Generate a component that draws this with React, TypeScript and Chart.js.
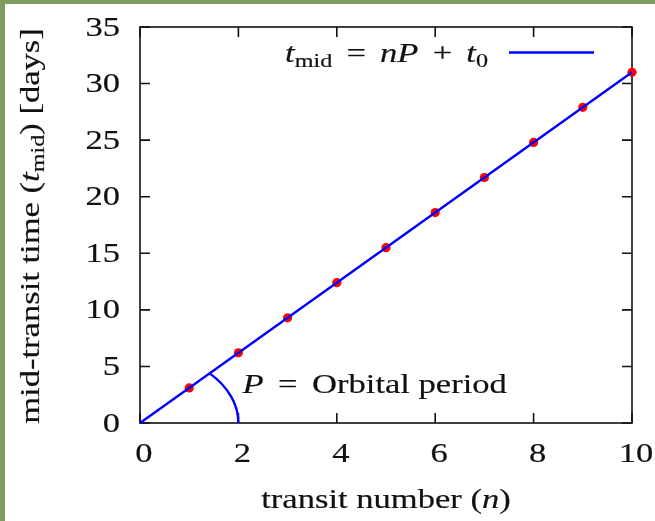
import { useEffect, useRef } from "react";
import { Chart, registerables } from "chart.js";

Chart.register(...registerables);

// Observed mid-transit times against transit number
const transitNumbers = [1, 2, 3, 4, 5, 6, 7, 8, 9, 10];
const midTransitTimes = [3.1, 6.2, 9.3, 12.4, 15.5, 18.6, 21.7, 24.8, 27.9, 31.0];

// Linear fit t_mid = nP + t0, drawn across the full axis range
const fitN = [0, 10];
const fitT = [0, 31];
const orbitalPeriod = 3.1;
const arcN = 2; // angle marker reaches n = 2 on the axis

const xTickValues = [0, 2, 4, 6, 8, 10];
const yTickValues = [0, 5, 10, 15, 20, 25, 30, 35];
const xTickLabels = ["0", "2", "4", "6", "8", "10"];
const yTickLabels = ["0", "5", "10", "15", "20", "25", "30", "35"];

const SERIF = '"Liberation Serif", "Times New Roman", serif';
const FONT_PX = 27;
const SX = 1.28; // horizontal stretch applied to all text
const INK = "#111111";
const FRAME = "#111111";
const BLUE = "#0000ff";
const RED = "#ff0000";
const BORDER_GREEN = "#7f9b5f";

// pad: extra space (in em) on both sides of a run, used for math operators
type Run = { t: string; it?: boolean; sub?: boolean; pad?: number };

function fontFor(r: Run) {
  const size = r.sub ? FONT_PX * 0.7 : FONT_PX;
  return `${r.it ? "italic " : ""}${size}px ${SERIF}`;
}

function drawRuns(
  ctx: CanvasRenderingContext2D,
  runs: Run[],
  x: number,
  y: number,
  align: "left" | "center" | "right"
) {
  ctx.save();
  ctx.translate(x, y);
  ctx.scale(SX, 1);
  ctx.textAlign = "left";
  ctx.textBaseline = "alphabetic";
  ctx.fillStyle = INK;
  ctx.strokeStyle = INK;
  ctx.lineWidth = 0.18;
  ctx.lineJoin = "round";
  const widths = runs.map((r) => {
    ctx.font = fontFor(r);
    return ctx.measureText(r.t).width + 2 * (r.pad ?? 0) * FONT_PX;
  });
  const total = widths.reduce((a, b) => a + b, 0);
  let cx = align === "left" ? 0 : align === "center" ? -total / 2 : -total;
  runs.forEach((r, i) => {
    ctx.font = fontFor(r);
    const dy = r.sub ? FONT_PX * 0.17 : 0;
    const px = cx + (r.pad ?? 0) * FONT_PX;
    ctx.fillText(r.t, px, dy);
    ctx.strokeText(r.t, px, dy);
    cx += widths[i];
  });
  ctx.restore();
}

const legendRuns: Run[] = [
  { t: "t", it: true },
  { t: "mid", sub: true },
  { t: " = ", pad: 0.16 },
  { t: "nP", it: true },
  { t: " + ", pad: 0.16 },
  { t: "t", it: true },
  { t: "0", sub: true },
];

const periodRuns: Run[] = [
  { t: "P", it: true },
  { t: " = ", pad: 0.17 },
  { t: "Orbital period" },
];

const xTitleRuns: Run[] = [{ t: "transit number (" }, { t: "n", it: true }, { t: ")" }];

const yTitleRuns: Run[] = [
  { t: "mid-transit time (" },
  { t: "t", it: true },
  { t: "mid", sub: true },
  { t: ") [days]" },
];

const gnuplotLook = {
  id: "gnuplotLook",
  beforeDraw(chart: any) {
    const { ctx, width, height } = chart;
    ctx.save();
    ctx.fillStyle = "#ffffff";
    ctx.fillRect(0, 0, width, height);
    ctx.fillStyle = BORDER_GREEN;
    ctx.fillRect(0, 0, 5, height);
    ctx.fillRect(0, 0, width, 4);
    ctx.restore();
  },
  beforeDatasetsDraw(chart: any) {
    const { ctx, chartArea: a, scales } = chart;
    const xs = scales.x;
    const ys = scales.y;
    const tick = 10;
    ctx.save();
    ctx.strokeStyle = FRAME;
    ctx.lineWidth = 1.6;
    ctx.strokeRect(a.left, a.top, a.right - a.left, a.bottom - a.top);
    ctx.beginPath();
    xTickValues.forEach((v) => {
      const px = xs.getPixelForValue(v);
      ctx.moveTo(px, a.bottom);
      ctx.lineTo(px, a.bottom - tick);
      ctx.moveTo(px, a.top);
      ctx.lineTo(px, a.top + tick);
    });
    yTickValues.forEach((v) => {
      const py = ys.getPixelForValue(v);
      ctx.moveTo(a.left, py);
      ctx.lineTo(a.left + tick, py);
      ctx.moveTo(a.right, py);
      ctx.lineTo(a.right - tick, py);
    });
    ctx.stroke();
    ctx.restore();

    xTickValues.forEach((v, i) => {
      drawRuns(ctx, [{ t: xTickLabels[i] }], xs.getPixelForValue(v) + 4, a.bottom + 39, "center");
    });
    yTickValues.forEach((v, i) => {
      drawRuns(ctx, [{ t: yTickLabels[i] }], a.left - 20, ys.getPixelForValue(v) + 8.5, "right");
    });

    drawRuns(ctx, xTitleRuns, (a.left + a.right) / 2, a.bottom + 85, "center");

    ctx.save();
    ctx.translate(39, (a.top + a.bottom) / 2 + 1);
    ctx.rotate(-Math.PI / 2);
    drawRuns(ctx, yTitleRuns, 0, 0, "center");
    ctx.restore();
  },
  afterDatasetsDraw(chart: any) {
    const { ctx, chartArea: a, scales } = chart;
    const xs = scales.x;
    const ys = scales.y;

    // angle marker between the axis and the fitted line
    const cx = xs.getPixelForValue(0);
    const cy = ys.getPixelForValue(0);
    const rx = xs.getPixelForValue(arcN) - cx;
    const ry = cy - ys.getPixelForValue(arcN * orbitalPeriod);
    ctx.save();
    ctx.strokeStyle = BLUE;
    ctx.lineWidth = 2.4;
    ctx.beginPath();
    ctx.ellipse(cx, cy, rx, ry, 0, -Math.PI / 4, 0);
    ctx.stroke();
    ctx.restore();
    drawRuns(ctx, periodRuns, xs.getPixelForValue(arcN) + 4, cy - 30, "left");

    // key
    const lx1 = a.right - 38;
    const lx0 = lx1 - 85;
    const ly = a.top + 25.5;
    ctx.save();
    ctx.strokeStyle = BLUE;
    ctx.lineWidth = 2.4;
    ctx.beginPath();
    ctx.moveTo(lx0, ly);
    ctx.lineTo(lx1, ly);
    ctx.stroke();
    ctx.restore();
    drawRuns(ctx, legendRuns, lx0 - 21, a.top + 35, "right");
  },
};

export default function App() {
  const canvasRef = useRef<HTMLCanvasElement | null>(null);

  useEffect(() => {
    const canvas = canvasRef.current;
    if (!canvas) return;
    const chart = new Chart(canvas, {
      type: "scatter",
      data: {
        datasets: [
          {
            label: "fit",
            data: fitN.map((n, i) => ({ x: n, y: fitT[i] })),
            showLine: true,
            borderColor: BLUE,
            borderWidth: 2.4,
            pointRadius: 0,
            order: 0,
            clip: false,
          },
          {
            label: "transits",
            data: transitNumbers.map((n, i) => ({ x: n, y: midTransitTimes[i] })),
            backgroundColor: RED,
            borderWidth: 0,
            pointRadius: 4.6,
            order: 1,
            clip: false,
          },
        ],
      },
      options: {
        responsive: false,
        animation: false,
        layout: { padding: { top: 27, right: 23, left: 0, bottom: 0 } },
        plugins: { legend: { display: false }, tooltip: { enabled: false } },
        scales: {
          x: {
            type: "linear",
            min: 0,
            max: 10,
            grid: { display: false },
            border: { display: false },
            ticks: { display: false },
            afterBuildTicks: (s: any) => {
              s.ticks = xTickValues.map((v) => ({ value: v }));
            },
            afterFit: (s: any) => {
              s.height = 98;
            },
          },
          y: {
            type: "linear",
            min: 0,
            max: 35,
            grid: { display: false },
            border: { display: false },
            ticks: { display: false },
            afterBuildTicks: (s: any) => {
              s.ticks = yTickValues.map((v) => ({ value: v }));
            },
            afterFit: (s: any) => {
              s.width = 140;
            },
          },
        },
      },
      plugins: [gnuplotLook],
    });
    return () => chart.destroy();
  }, []);

  return (
    <div style={{ position: "fixed", left: 0, top: 0, width: 655, height: 521 }}>
      <canvas ref={canvasRef} width={655} height={521} style={{ display: "block" }} />
    </div>
  );
}
